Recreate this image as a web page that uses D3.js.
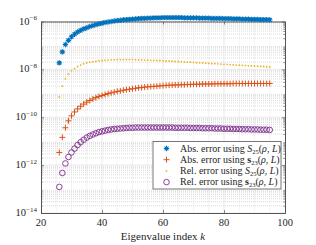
<!DOCTYPE html>
<html>
<head>
<meta charset="utf-8">
<script src="https://cdn.jsdelivr.net/npm/d3@7"></script>
<style>
  body { margin: 0; background: #fff; }
  text { font-family: "Liberation Serif", "DejaVu Serif", serif; fill: #262626; }
</style>
</head>
<body>
<div id="svg-spot"></div>
<script>
// Eigenvalue index k (x values)
var kValues = d3.range(26, 96);

// log10 of each error (k = 26 ... 95)
var absS25Log = [
  -7.73, -7.27, -6.96, -6.79, -6.64, -6.53, -6.44, -6.37, -6.31, -6.26,
  -6.21, -6.17, -6.13, -6.10, -6.07, -6.04, -6.02, -6.00, -5.98, -5.96,
  -5.95, -5.93, -5.92, -5.91, -5.90, -5.89, -5.88, -5.87, -5.87, -5.86,
  -5.86, -5.85, -5.85, -5.85, -5.84, -5.84, -5.84, -5.84, -5.84, -5.84,
  -5.84, -5.85, -5.85, -5.85, -5.85, -5.85, -5.86, -5.86, -5.86, -5.86,
  -5.87, -5.87, -5.87, -5.87, -5.88, -5.88, -5.88, -5.89, -5.89, -5.89,
  -5.90, -5.90, -5.90, -5.91, -5.91, -5.91, -5.92, -5.92, -5.92, -5.93
];
var absS23Log = [
  -11.47, -10.84, -10.44, -10.15, -9.94, -9.78, -9.65, -9.54, -9.45, -9.37,
  -9.30, -9.24, -9.18, -9.13, -9.09, -9.05, -9.01, -8.98, -8.95, -8.92,
  -8.90, -8.87, -8.85, -8.83, -8.81, -8.79, -8.77, -8.76, -8.74, -8.73,
  -8.72, -8.71, -8.70, -8.69, -8.68, -8.67, -8.66, -8.66, -8.65, -8.65,
  -8.64, -8.64, -8.63, -8.63, -8.62, -8.62, -8.62, -8.61, -8.61, -8.61,
  -8.61, -8.60, -8.60, -8.60, -8.60, -8.60, -8.60, -8.59, -8.59, -8.59,
  -8.59, -8.59, -8.59, -8.59, -8.59, -8.59, -8.59, -8.59, -8.59, -8.59
];
var relS25Log = [
  -9.15, -8.70, -8.40, -8.20, -8.06, -7.96, -7.88, -7.82, -7.77, -7.73,
  -7.70, -7.68, -7.66, -7.64, -7.63, -7.62, -7.61, -7.60, -7.60, -7.59,
  -7.59, -7.59, -7.59, -7.59, -7.59, -7.60, -7.60, -7.60, -7.61, -7.61,
  -7.62, -7.62, -7.63, -7.63, -7.64, -7.65, -7.65, -7.66, -7.67, -7.67,
  -7.68, -7.69, -7.70, -7.70, -7.71, -7.72, -7.73, -7.73, -7.74, -7.75,
  -7.76, -7.76, -7.77, -7.78, -7.79, -7.79, -7.80, -7.81, -7.82, -7.82,
  -7.83, -7.84, -7.85, -7.85, -7.86, -7.87, -7.88, -7.88, -7.89, -7.90
];
var relS23Log = [
  -12.91, -12.33, -11.93, -11.66, -11.47, -11.31, -11.16, -11.04, -10.94, -10.85,
  -10.78, -10.72, -10.67, -10.62, -10.59, -10.56, -10.53, -10.51, -10.49, -10.48,
  -10.47, -10.46, -10.45, -10.44, -10.44, -10.43, -10.43, -10.43, -10.43, -10.43,
  -10.43, -10.43, -10.43, -10.43, -10.43, -10.43, -10.43, -10.43, -10.44, -10.44,
  -10.44, -10.44, -10.44, -10.45, -10.45, -10.45, -10.45, -10.46, -10.46, -10.46,
  -10.46, -10.47, -10.47, -10.47, -10.48, -10.48, -10.48, -10.49, -10.49, -10.49,
  -10.50, -10.50, -10.50, -10.51, -10.51, -10.51, -10.52, -10.52, -10.52, -10.53
];

// Tick labels
var xTicks = [20, 40, 60, 80, 100];
var yTickExponents = [-6, -8, -10, -12, -14];

// Chart size
var svgWidth = 316;
var svgHeight = 245;
var margins = { top: 21.5, right: 31, bottom: 32, left: 41 };
var width = svgWidth - margins.left - margins.right;
var height = svgHeight - margins.top - margins.bottom;

var svg = d3.select("#svg-spot")
            .append("svg")
            .attr("width", svgWidth)
            .attr("height", svgHeight);

var chartGroup = svg.append("g")
                    .attr("transform", `translate(${margins.left}, ${margins.top})`);

// Scales
var xScale = d3.scaleLinear().domain([20, 100]).range([0, width]);
var yScale = d3.scaleLog().domain([1e-14, 1e-6]).range([height, 0]);

// Grid lines: minor (dotted) then major
var minorY = [];
for (var e = -14; e < -6; e++) {
    for (var m = 2; m < 10; m++) minorY.push(m * Math.pow(10, e));
}
var majorY = yTickExponents.map(d => Math.pow(10, d));
var minorX = d3.range(25, 100, 5).filter(d => d % 20 !== 0);

chartGroup.append("g").selectAll("line")
    .data(minorY)
    .enter().append("line")
    .attr("x1", 0).attr("x2", width)
    .attr("y1", d => yScale(d)).attr("y2", d => yScale(d))
    .attr("stroke", "#d4d4d4")
    .attr("stroke-width", 0.8)
    .attr("stroke-dasharray", "1,1");

chartGroup.append("g").selectAll("line")
    .data(minorX)
    .enter().append("line")
    .attr("x1", d => xScale(d)).attr("x2", d => xScale(d))
    .attr("y1", 0).attr("y2", height)
    .attr("stroke", "#e2e2e2")
    .attr("stroke-width", 0.8)
    .attr("stroke-dasharray", "1,1");

chartGroup.append("g").selectAll("line")
    .data(majorY)
    .enter().append("line")
    .attr("x1", 0).attr("x2", width)
    .attr("y1", d => yScale(d)).attr("y2", d => yScale(d))
    .attr("stroke", "#e4e4e4")
    .attr("stroke-width", 0.8);

chartGroup.append("g").selectAll("line")
    .data([40, 60, 80])
    .enter().append("line")
    .attr("x1", d => xScale(d)).attr("x2", d => xScale(d))
    .attr("y1", 0).attr("y2", height)
    .attr("stroke", "#e4e4e4")
    .attr("stroke-width", 0.8);

// Axes with inward ticks (box on both sides)
var axisColor = "#555";
function styleAxis(g) {
    g.select(".domain").attr("stroke", axisColor).attr("stroke-width", 1);
    g.selectAll(".tick line").attr("stroke", axisColor).attr("stroke-width", 0.7);
    g.selectAll(".tick text").remove();
}
chartGroup.append("g")
    .attr("transform", `translate(0,${height})`)
    .call(d3.axisBottom(xScale).tickValues(xTicks).tickSizeInner(-3).tickSizeOuter(0))
    .call(styleAxis);
chartGroup.append("g")
    .call(d3.axisTop(xScale).tickValues(xTicks).tickSizeInner(-3).tickSizeOuter(0))
    .call(styleAxis);
chartGroup.append("g")
    .call(d3.axisLeft(yScale).tickValues(majorY).tickSizeInner(-3).tickSizeOuter(0))
    .call(styleAxis);
chartGroup.append("g")
    .attr("transform", `translate(${width},0)`)
    .call(d3.axisRight(yScale).tickValues(majorY).tickSizeInner(-3).tickSizeOuter(0))
    .call(styleAxis);
chartGroup.append("g")
    .call(d3.axisLeft(yScale).tickValues(minorY).tickSizeInner(-1.5).tickSizeOuter(0))
    .call(styleAxis);
chartGroup.append("g")
    .attr("transform", `translate(${width},0)`)
    .call(d3.axisRight(yScale).tickValues(minorY).tickSizeInner(-1.5).tickSizeOuter(0))
    .call(styleAxis);

// Tick labels
chartGroup.append("g").selectAll("text")
    .data(xTicks)
    .enter().append("text")
    .attr("x", d => xScale(d))
    .attr("y", height + 13)
    .attr("text-anchor", "middle")
    .attr("font-size", 10.5)
    .text(d => d);

var yLabels = chartGroup.append("g").selectAll("text")
    .data(yTickExponents)
    .enter().append("text")
    .attr("x", -4)
    .attr("y", d => yScale(Math.pow(10, d)) + 3)
    .attr("text-anchor", "end")
    .attr("font-size", 10.5);
yLabels.append("tspan").text("10");
yLabels.append("tspan")
    .attr("dy", -4.5)
    .attr("font-size", 7)
    .text(d => "\u2212" + Math.abs(d));

// x-axis title
var xTitle = svg.append("text")
    .attr("x", margins.left + width / 2)
    .attr("y", 240)
    .attr("text-anchor", "middle")
    .attr("font-size", 11);
xTitle.append("tspan").text("Eigenvalue index ");
xTitle.append("tspan").attr("font-style", "italic").text("k");

// Marker shapes
function asterisk(r) {
    var a = r * 0.72;
    return `M${-r},0H${r}M0,${-r}V${r}M${-a},${-a}L${a},${a}M${-a},${a}L${a},${-a}`;
}
function plus(r) {
    return `M${-r},0H${r}M0,${-r}V${r}`;
}

var series = [
    { name: "absS25", values: absS25Log, color: "#0072BD", marker: "asterisk" },
    { name: "absS23", values: absS23Log, color: "#D95319", marker: "plus" },
    { name: "relS25", values: relS25Log, color: "#EDB120", marker: "dot" },
    { name: "relS23", values: relS23Log, color: "#7E2F8E", marker: "circle" }
];

function drawMarker(sel, s) {
    if (s.marker === "asterisk") {
        sel.append("path").attr("d", asterisk(2.7))
            .attr("stroke", s.color).attr("stroke-width", 1.1).attr("fill", "none");
    } else if (s.marker === "plus") {
        sel.append("path").attr("d", plus(3))
            .attr("stroke", s.color).attr("stroke-width", 1).attr("fill", "none");
    } else if (s.marker === "dot") {
        sel.append("circle").attr("r", 0.9).attr("fill", s.color);
    } else {
        sel.append("circle").attr("r", 2.8)
            .attr("stroke", s.color).attr("stroke-width", 0.9).attr("fill", "none");
    }
}

series.forEach(function(s) {
    var pts = chartGroup.append("g").selectAll("g")
        .data(kValues.map((k, i) => ({ k: k, v: Math.pow(10, s.values[i]) })))
        .enter().append("g")
        .attr("transform", d => `translate(${xScale(d.k)},${yScale(d.v)})`);
    pts.each(function() { drawMarker(d3.select(this), s); });
});

// Legend
var legendLabels = [
    ["Abs. error using ", "S", "25", "normal"],
    ["Abs. error using ", "s", "23", "bold"],
    ["Rel. error using ", "S", "25", "normal"],
    ["Rel. error using ", "s", "23", "bold"]
];
var legend = svg.append("g").attr("transform", "translate(153,141.5)");
legend.append("rect")
    .attr("width", 128).attr("height", 47.5)
    .attr("fill", "#fff")
    .attr("stroke", "#555")
    .attr("stroke-width", 0.8);

var rows = legend.selectAll("g.row")
    .data(series)
    .enter().append("g")
    .attr("class", "row")
    .attr("transform", (d, i) => `translate(0,${7 + i * 11.2})`);

rows.each(function(s) {
    var g = d3.select(this);
    drawMarker(g.append("g").attr("transform", "translate(13.5,0)"), s);
    var lbl = legendLabels[series.indexOf(s)];
    var t = g.append("text").attr("x", 27).attr("y", 3.2).attr("font-size", 10);
    t.append("tspan").text(lbl[0]);
    t.append("tspan")
        .attr("font-style", lbl[3] === "bold" ? "normal" : "italic")
        .attr("font-weight", lbl[3])
        .text(lbl[1]);
    t.append("tspan").attr("font-size", 6.5).attr("dy", 2).text(lbl[2]);
    t.append("tspan").attr("dy", -2).text("(");
    t.append("tspan").attr("font-style", "italic").text("\u03C1");
    t.append("tspan").text(", ");
    t.append("tspan").attr("font-style", "italic").text("L");
    t.append("tspan").text(")");
});
</script>
</body>
</html>
